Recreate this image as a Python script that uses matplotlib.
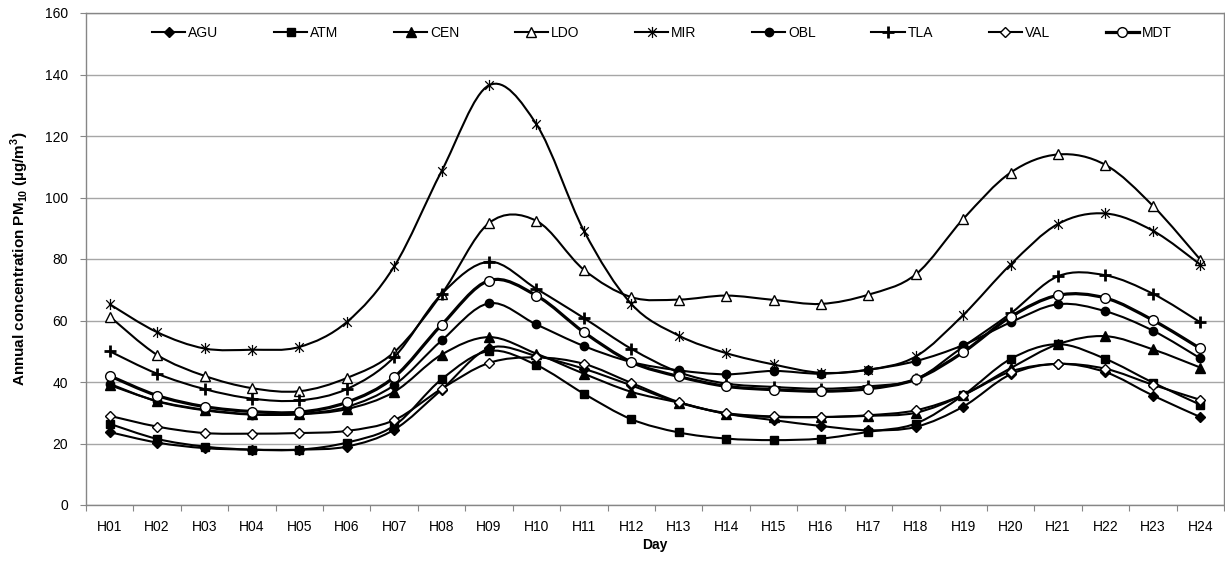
import numpy as np
import matplotlib

matplotlib.use("Agg")
import matplotlib.pyplot as plt
from matplotlib.path import Path
from matplotlib.patches import PathPatch
from matplotlib.lines import Line2D

plt.rcParams.update({
    "font.family": ["Liberation Sans", "DejaVu Sans"],
    "font.size": 10,
    "mathtext.fontset": "custom",
    "mathtext.rm": "Liberation Sans",
    "mathtext.bf": "Liberation Sans:bold",
})

hours = ["H01", "H02", "H03", "H04", "H05", "H06", "H07", "H08", "H09", "H10", "H11", "H12",
         "H13", "H14", "H15", "H16", "H17", "H18", "H19", "H20", "H21", "H22", "H23", "H24"]

AGU = [23.7, 20.3, 18.5, 18.0, 18.0, 19.0, 24.5, 37.5, 51.0, 48.5, 44.3, 38.9,
       33.3, 29.7, 27.6, 25.7, 24.3, 25.4, 32.0, 42.5, 45.9, 43.2, 35.6, 28.6]
ATM = [26.4, 21.5, 19.0, 18.0, 18.0, 20.3, 25.8, 40.9, 50.1, 45.5, 36.2, 27.9,
       23.6, 21.6, 21.1, 21.6, 23.8, 26.5, 35.7, 47.5, 52.3, 47.5, 39.8, 32.6]
CEN = [39.0, 33.8, 31.0, 29.5, 29.5, 31.2, 36.8, 48.9, 54.6, 49.2, 42.7, 36.8,
       33.3, 29.7, 28.6, 28.6, 29.0, 30.0, 35.8, 44.5, 52.3, 54.9, 50.6, 44.7]
LDO = [61.3, 48.8, 42.0, 38.0, 37.0, 41.3, 49.7, 68.6, 91.7, 92.4, 76.5, 67.6,
       66.8, 68.1, 66.7, 65.4, 68.4, 75.0, 93.0, 108.1, 114.0, 110.6, 97.3, 79.8]
MIR = [65.3, 56.2, 50.9, 50.5, 51.4, 59.5, 77.6, 108.6, 136.5, 123.8, 89.2, 65.4,
       55.1, 49.4, 45.7, 43.0, 44.0, 48.3, 61.8, 78.2, 91.4, 94.8, 89.2, 78.2]
OBL = [39.4, 33.7, 30.8, 29.4, 29.6, 31.9, 39.0, 53.5, 65.6, 58.7, 51.7, 46.5,
       43.8, 42.5, 43.6, 42.7, 44.0, 46.8, 52.0, 59.4, 65.3, 63.0, 56.7, 47.7]
TLA = [50.0, 42.7, 37.7, 34.6, 34.0, 37.7, 48.1, 68.6, 79.1, 70.3, 60.8, 50.8,
       43.2, 39.5, 38.4, 37.8, 38.6, 40.9, 51.5, 62.3, 74.4, 74.7, 68.7, 59.4]
VAL = [29.0, 25.5, 23.4, 23.2, 23.4, 24.1, 27.6, 37.8, 46.2, 48.0, 45.9, 39.7,
       33.5, 29.9, 28.8, 28.6, 29.2, 30.8, 35.8, 43.4, 45.9, 44.3, 39.1, 34.2]
MDT = [42.0, 35.6, 32.0, 30.4, 30.2, 33.4, 41.6, 58.6, 73.0, 68.1, 56.2, 46.5,
       41.8, 38.6, 37.5, 37.0, 37.8, 40.9, 49.7, 61.2, 68.2, 67.3, 60.1, 50.9]

# asterisk marker like Excel's: an X with a vertical bar
star = Path([(-1, -1), (1, 1), (-1, 1), (1, -1), (0, -1.3), (0, 1.3)],
            [Path.MOVETO, Path.LINETO, Path.MOVETO, Path.LINETO, Path.MOVETO, Path.LINETO])

series = [
    ("AGU", AGU, dict(marker="D", ms=5, mfc="black", mew=1), 1.5),
    ("ATM", ATM, dict(marker="s", ms=5.5, mfc="black", mew=1), 1.5),
    ("CEN", CEN, dict(marker="^", ms=6.5, mfc="black", mew=1), 1.5),
    ("LDO", LDO, dict(marker="^", ms=7, mfc="white", mew=1), 1.5),
    ("MIR", MIR, dict(marker=star, ms=8, mfc="none", mew=0.9), 1.5),
    ("OBL", OBL, dict(marker="o", ms=6, mfc="black", mew=1), 1.5),
    ("TLA", TLA, dict(marker="+", ms=8, mfc="none", mew=2), 1.5),
    ("VAL", VAL, dict(marker="D", ms=5.5, mfc="white", mew=1), 1.5),
    ("MDT", MDT, dict(marker="o", ms=7, mfc="white", mew=1), 2.3),
]


def smooth_path(x, y):
    # Excel-style smoothed line: cubic Bezier segments through the points
    p = np.column_stack([x, y]).astype(float)
    n = len(p)
    verts = [p[0]]
    codes = [Path.MOVETO]
    for i in range(n - 1):
        p0 = p[i - 1] if i > 0 else p[i]
        p1, p2 = p[i], p[i + 1]
        p3 = p[i + 2] if i + 2 < n else p[i + 1]
        verts += [p1 + (p2 - p0) / 6, p2 - (p3 - p1) / 6, p2]
        codes += [Path.CURVE4] * 3
    return Path(verts, codes)


fig = plt.figure(figsize=(12.25, 5.64), dpi=100)
ax = fig.add_axes([86 / 1225, 1 - 505 / 564, 1138 / 1225, 492 / 564])

x = np.arange(len(hours))
handles = []
for k, (name, vals, mk, lw) in enumerate(series):
    ax.add_patch(PathPatch(smooth_path(x, vals), fc="none", ec="black", lw=lw,
                           zorder=3 + k * 0.1, capstyle="round", joinstyle="round"))
    ax.plot(x, vals, ls="none", color="black", mec="black", zorder=3.05 + k * 0.1, **mk)
    handles.append(Line2D([], [], color="black", lw=lw, mec="black", **mk))

ax.set_xlim(-0.5, len(hours) - 0.5)
ax.set_ylim(0, 160)
ax.set_yticks(np.arange(0, 161, 20))
ax.set_xticks(np.arange(len(hours) + 1) - 0.5)
ax.set_xticklabels([])
ax.set_xticks(x, minor=True)
ax.set_xticklabels(hours, minor=True)
ax.tick_params(axis="x", which="major", length=4, color="#868686", direction="out")
ax.tick_params(axis="x", which="minor", length=0, pad=11, labelsize=10)
ax.tick_params(axis="y", length=4, color="#868686", labelsize=10, pad=9)
ax.yaxis.grid(True, color="#a6a6a6", lw=1)
ax.set_axisbelow(True)
for s in ax.spines.values():
    s.set_color("#868686")
    s.set_linewidth(1)

ax.set_xlabel("Day", fontweight="bold", fontsize=10, labelpad=3)
ax.set_ylabel(r"Annual concentration PM$_{\mathbf{10}}$ (µg/m$^{\mathbf{3}}$)",
              fontweight="bold", fontsize=11, labelpad=10)

ax.legend(handles, [s[0] for s in series], loc="center", bbox_to_anchor=(0.506, 0.959),
          ncol=9, frameon=False, handlelength=2.4, handletextpad=0.2,
          columnspacing=4.0, fontsize=10)

fig.savefig("out.png", dpi=100)
